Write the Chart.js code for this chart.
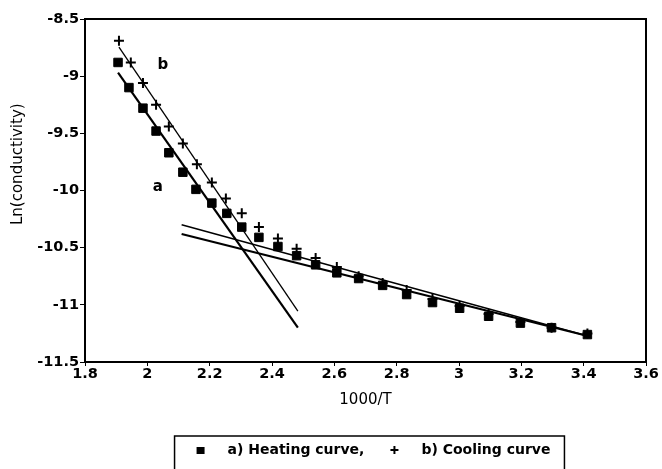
<!DOCTYPE html>
<html lang="en">
<head>
    <meta charset="UTF-8">
    <title>Ln(conductivity) vs 1000/T</title>
    <script src="https://cdn.jsdelivr.net/npm/chart.js"></script>
    <style>
        body { margin: 0; background: #fff; }
        #wrap { width: 662px; height: 469px; }
    </style>
</head>
<body>
    <div id="wrap">
        <canvas id="condChart" width="662" height="469"></canvas>
    </div>

    <script>
        const heatX = [1.906, 1.941, 1.986, 2.028, 2.069, 2.114, 2.156, 2.207, 2.255, 2.303, 2.358, 2.419,
                       2.479, 2.540, 2.608, 2.678, 2.755, 2.832, 2.915, 3.002, 3.095, 3.197, 3.297, 3.412];
        const heatY = [-8.88, -9.10, -9.28, -9.48, -9.67, -9.84, -9.99, -10.11, -10.20, -10.32, -10.41, -10.49,
                       -10.57, -10.65, -10.72, -10.77, -10.83, -10.91, -10.98, -11.03, -11.10, -11.16, -11.20, -11.26];

        const coolX = [1.909, 1.947, 1.986, 2.028, 2.069, 2.114, 2.159, 2.207, 2.252, 2.303, 2.358, 2.419,
                       2.479, 2.540, 2.608, 2.678, 2.755, 2.832, 2.915, 3.002, 3.095, 3.197, 3.297, 3.412];
        const coolY = [-8.69, -8.88, -9.06, -9.25, -9.44, -9.59, -9.77, -9.93, -10.07, -10.20, -10.32, -10.42,
                       -10.51, -10.59, -10.67, -10.75, -10.81, -10.87, -10.95, -11.01, -11.08, -11.15, -11.20, -11.25];

        // straight-line fits (end points)
        const fitAHighX = [1.906, 2.483];
        const fitAHighY = [-8.97, -11.20];
        const fitBHighX = [1.909, 2.483];
        const fitBHighY = [-8.745, -11.055];
        const fitALowX = [2.11, 3.41];
        const fitALowY = [-10.38, -11.27];
        const fitBLowX = [2.11, 3.41];
        const fitBLowY = [-10.30, -11.27];

        const seriesNames = ['a) Heating curve,', 'b) Cooling curve'];
        const curveTags = [{ text: 'a', x: 2.034, y: -9.97 }, { text: 'b', x: 2.05, y: -8.90 }];
        const yTitle = 'Ln(conductivity)';

        const xTicks = { min: 1.8, max: 3.6, step: 0.2 };
        const yTicks = { min: -11.5, max: -8.5, step: 0.5 };

        const pts = (xs, ys) => xs.map((x, i) => ({ x: x, y: ys[i] }));
        const fmt = v => String(Math.round(v * 10) / 10);

        const fitLine = (xs, ys, w) => ({
            type: 'line',
            data: pts(xs, ys),
            borderColor: '#000',
            borderWidth: w,
            pointRadius: 0,
            showLine: true,
            fill: false
        });

        // small legend markers, so the gap before the text can be wide
        function legendMark(kind) {
            const c = document.createElement('canvas');
            c.width = 12; c.height = 12;
            const g = c.getContext('2d');
            g.fillStyle = '#000';
            g.strokeStyle = '#000';
            if (kind === 'rect') {
                g.fillRect(2, 3, 8, 7);
            } else {
                g.lineWidth = 2;
                g.beginPath();
                g.moveTo(6, 2); g.lineTo(6, 10);
                g.moveTo(2, 6); g.lineTo(10, 6);
                g.stroke();
            }
            return c;
        }
        const legendMarks = [legendMark('rect'), legendMark('cross')];

        const mainFont = 'DejaVu Sans';

        // box round the plot and round the legend, plus the a / b tags and the y title
        const extras = {
            id: 'extras',
            afterDraw(chart) {
                const ctx = chart.ctx;
                const a = chart.chartArea;
                ctx.save();
                ctx.strokeStyle = '#000';
                ctx.lineWidth = 2;
                ctx.strokeRect(a.left, a.top, a.right - a.left, a.bottom - a.top);

                const boxes = chart.legend.legendHitBoxes;
                if (boxes && boxes.length) {
                    let l = Infinity, r = -Infinity, t = Infinity;
                    boxes.forEach(h => {
                        l = Math.min(l, h.left); r = Math.max(r, h.left + h.width);
                        t = Math.min(t, h.top);
                    });
                    ctx.lineWidth = 1.5;
                    ctx.strokeRect(l - 6, t - 7, r - l + 20, chart.height - t + 10);
                }

                ctx.fillStyle = '#000';
                ctx.font = 'bold 15px "' + mainFont + '"';
                ctx.textAlign = 'center';
                ctx.textBaseline = 'middle';
                curveTags.forEach(tag => {
                    ctx.fillText(tag.text, chart.scales.x.getPixelForValue(tag.x), chart.scales.y.getPixelForValue(tag.y));
                });

                ctx.font = '15px "' + mainFont + '"';
                ctx.translate(18, chart.scales.y.getPixelForValue(-9.77));
                ctx.rotate(-Math.PI / 2);
                ctx.fillText(yTitle, 0, 0);
                ctx.restore();
            }
        };

        const tickFont = { family: mainFont, size: 14.5, weight: 'bold' };
        const titleFont = { family: mainFont, size: 15 };

        new Chart(document.getElementById('condChart').getContext('2d'), {
            type: 'scatter',
            data: {
                datasets: [
                    {
                        label: seriesNames[0],
                        data: pts(heatX, heatY),
                        pointStyle: 'rect',
                        pointRadius: 6,
                        backgroundColor: '#000',
                        borderColor: '#000',
                        borderWidth: 1
                    },
                    {
                        label: seriesNames[1],
                        data: pts(coolX, coolY),
                        pointStyle: 'cross',
                        pointRadius: 5,
                        backgroundColor: '#000',
                        borderColor: '#000',
                        borderWidth: 2
                    },
                    fitLine(fitAHighX, fitAHighY, 2.2),
                    fitLine(fitBHighX, fitBHighY, 1.3),
                    fitLine(fitALowX, fitALowY, 2.2),
                    fitLine(fitBLowX, fitBLowY, 1.5)
                ]
            },
            options: {
                responsive: false,
                animation: false,
                layout: { padding: { top: 19, right: 16, left: 0, bottom: 2 } },
                scales: {
                    x: {
                        type: 'linear',
                        min: xTicks.min,
                        max: xTicks.max,
                        afterFit: s => { s.height = 71; },
                        ticks: { stepSize: xTicks.step, color: '#000', font: tickFont, padding: 0, maxRotation: 0, callback: fmt },
                        grid: { display: true, drawOnChartArea: false, color: '#000', tickLength: 4 },
                        border: { color: '#000', width: 2 },
                        title: { display: true, text: '1000/T', color: '#000', font: titleFont, padding: { top: 0, bottom: 24 } }
                    },
                    y: {
                        type: 'linear',
                        min: yTicks.min,
                        max: yTicks.max,
                        afterFit: s => { s.width = 85; },
                        ticks: { stepSize: yTicks.step, color: '#000', font: tickFont, padding: 1, callback: fmt },
                        grid: { display: true, drawOnChartArea: false, color: '#000', tickLength: 5 },
                        border: { color: '#000', width: 2 },
                        title: { display: false }
                    }
                },
                plugins: {
                    legend: {
                        position: 'bottom',
                        fullSize: false,
                        labels: {
                            color: '#000',
                            font: { family: mainFont, size: 14, weight: 'bold' },
                            usePointStyle: true,
                            pointStyleWidth: 40,
                            padding: 10,
                            generateLabels: chart => Chart.defaults.plugins.legend.labels.generateLabels(chart)
                                .filter(item => item.datasetIndex < 2)
                                .map(item => Object.assign(item, { pointStyle: legendMarks[item.datasetIndex] }))
                        }
                    },
                    tooltip: { enabled: false }
                }
            },
            plugins: [extras]
        });
    </script>
</body>
</html>
